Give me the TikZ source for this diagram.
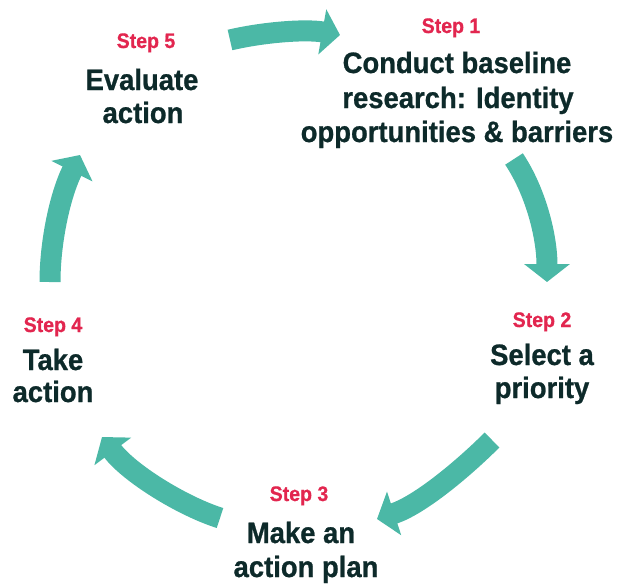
\documentclass[tikz,border=0pt]{standalone}
\usepackage{fontspec}
\setmainfont{Liberation Sans}[FakeStretch=0.93, BoldFeatures={FakeBold=0.8}]
\usetikzlibrary{arrows.meta}
\definecolor{cycteal}{HTML}{4BB8A6}
\definecolor{stepred}{HTML}{E2264F}
\definecolor{darktxt}{HTML}{0D2A2A}
\tikzset{
  steplbl/.style={text=stepred, font=\bfseries\fontsize{21}{24}\selectfont, inner sep=0pt, anchor=base},
  steptxt/.style={text=darktxt, font=\bfseries\fontsize{29.5}{33}\selectfont, inner sep=0pt, anchor=base},
  cyc/.style={draw=cycteal, line width=21pt, -{Triangle[length=18pt,width=45pt]}}
}
\begin{document}
\begin{tikzpicture}[x=1pt,y=-1pt]
\useasboundingbox (0,0) rectangle (620,584);
% Step 1
\node[steplbl] (l1) at (451,33) {Step 1};
\node[steptxt] (t1a) at (457,73) {Conduct baseline};
\node[steptxt] (t1b) at (458,108) {research: Identity};
\node[steptxt] (t1c) at (457,142) {opportunities \& barriers};
% Step 2
\node[steplbl] (l2) at (542,327) {Step 2};
\node[steptxt] (t2a) at (542,365) {Select a};
\node[steptxt] (t2b) at (542,398) {priority};
% Step 3
\node[steplbl] (l3) at (299,501) {Step 3};
\node[steptxt] (t3a) at (301,543) {Make an};
\node[steptxt] (t3b) at (306,577) {action plan};
% Step 4
\node[steplbl] (l4) at (53,332) {Step 4};
\node[steptxt] (t4a) at (53,370) {Take};
\node[steptxt] (t4b) at (53,402) {action};
% Step 5
\node[steplbl] (l5) at (146,48) {Step 5};
\node[steptxt] (t5a) at (142,90) {Evaluate};
\node[steptxt] (t5b) at (143,123) {action};
% arrows
\coordinate (a1s) at (230,40);  \coordinate (a1e) at (340,35);
\coordinate (a2s) at (514,159); \coordinate (a2e) at (547,282);
\coordinate (a3s) at (492,440); \coordinate (a3e) at (377,519);
\coordinate (a4s) at (220,518); \coordinate (a4e) at (102,437);
\coordinate (a5s) at (50,282);  \coordinate (a5e) at (80,155);
\draw[cyc] (a1s) .. controls (264,32) and (306,29) .. (a1e);
\draw[cyc] (a2s) .. controls (536,192) and (547,237) .. (a2e);
\draw[cyc] (a3s) .. controls (464,468) and (420,505) .. (a3e);
\draw[cyc] (a4s) .. controls (182,506) and (129,473) .. (a4e);
\draw[cyc] (a5s) .. controls (50,242) and (60,195) .. (a5e);
\end{tikzpicture}
\end{document}
